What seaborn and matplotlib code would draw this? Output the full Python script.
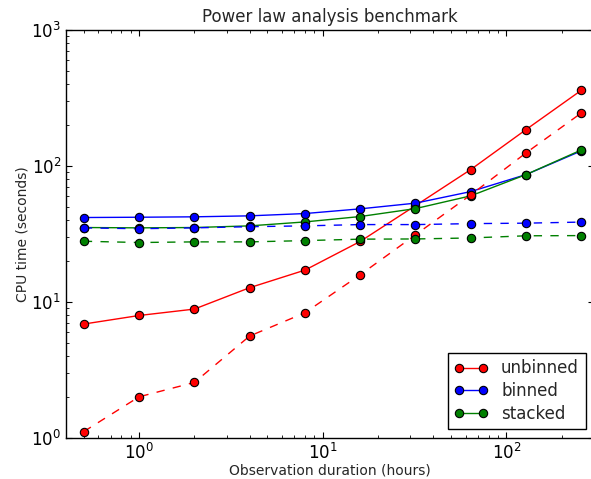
import numpy as np
import pandas as pd
import matplotlib
matplotlib.use("Agg")
import matplotlib.pyplot as plt
import seaborn as sns

# Datos (horas de observación vs tiempo de CPU)
duration = [0.5, 1, 2, 4, 8, 16, 32, 64, 128, 256]

unbinned = [6.86, 7.93, 8.84, 12.7, 17.1, 27.8, 51.0, 94.0, 185.0, 360.0]
binned = [41.7, 41.9, 42.2, 42.9, 44.6, 48.3, 53.2, 64.7, 86.3, 129.0]
stacked = [35.2, 35.0, 35.2, 36.2, 38.7, 42.4, 48.5, 60.2, 86.3, 131.0]

unbinned_2 = [1.11, 2.0, 2.55, 5.6, 8.3, 15.8, 31.1, 61.2, 124.6, 245.0]
binned_2 = [35.0, 34.5, 35.0, 35.7, 36.2, 37.0, 37.0, 37.6, 37.9, 38.6]
stacked_2 = [27.9, 27.3, 27.6, 27.6, 28.2, 28.9, 29.0, 29.5, 30.6, 30.7]

sns.set_style("ticks")
plt.rcParams.update({
    "font.family": ["DejaVu Sans"],
    "xtick.direction": "in",
    "ytick.direction": "in",
    "xtick.top": True,
    "ytick.right": True,
    "xtick.major.size": 4,
    "ytick.major.size": 4,
    "xtick.minor.size": 2,
    "ytick.minor.size": 2,
    "xtick.labelsize": 12,
    "ytick.labelsize": 12,
    "axes.edgecolor": "black",
    "axes.linewidth": 1.0,
    "xtick.color": "black",
    "ytick.color": "black",
})

fig, ax = plt.subplots(figsize=(5.91, 4.79), dpi=100)

series = [
    ("unbinned", unbinned, "red", "-"),
    ("binned", binned, "blue", "-"),
    ("stacked", stacked, "green", "-"),
    (None, unbinned_2, "red", (0, (6, 6))),
    (None, binned_2, "blue", (0, (6, 6))),
    (None, stacked_2, "green", (0, (6, 6))),
]

for label, vals, col, ls in series:
    df = pd.DataFrame({"duration": duration, "cpu": vals})
    sns.lineplot(data=df, x="duration", y="cpu", ax=ax, color=col,
                 linestyle=ls, linewidth=1.0, marker="o", markersize=6,
                 markerfacecolor=col, markeredgecolor="black",
                 markeredgewidth=0.8, label=label, legend=False)

ax.set_xscale("log")
ax.set_yscale("log")
ax.set_xlim(0.4, 300)
ax.set_ylim(1, 1000)

ax.set_title("Power law analysis benchmark", fontsize=12)
ax.set_xlabel("Observation duration (hours)", fontsize=10, labelpad=0.5)
ax.set_ylabel("CPU time (seconds)", fontsize=10, labelpad=1.5)

handles = ax.get_lines()[:3]
ax.legend(handles, ["unbinned", "binned", "stacked"], loc="lower right",
          numpoints=2, fontsize=12, frameon=True, fancybox=False,
          edgecolor="black", framealpha=1.0, handlelength=2.0,
          labelspacing=0.28)
ax.get_legend().get_frame().set_linewidth(1.0)

fig.subplots_adjust(left=0.1117, right=1.005, top=0.9374, bottom=0.0862)
fig.savefig("out.png", dpi=100)
